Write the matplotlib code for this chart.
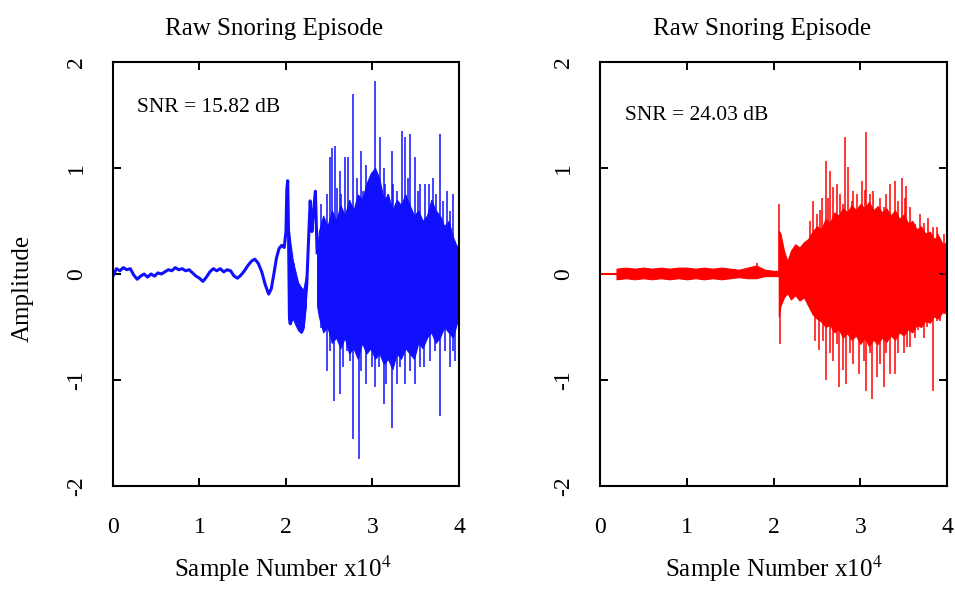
import matplotlib
matplotlib.use("Agg")
import matplotlib.pyplot as plt

plt.rcParams['font.family'] = ['Liberation Serif', 'DejaVu Serif']
plt.rcParams['mathtext.fontset'] = 'stix'

# ---- left panel (SNR 15.82 dB), x in units of 1e4 samples ----
left_quiet_x = [0.00, 0.04, 0.08, 0.12, 0.16, 0.20, 0.24, 0.28, 0.32, 0.36,
                0.40, 0.44, 0.48, 0.52, 0.56, 0.60, 0.64, 0.68, 0.72, 0.76,
                0.80, 0.84, 0.88, 0.92, 0.96, 1.00, 1.04, 1.08, 1.12, 1.16,
                1.20, 1.24, 1.28, 1.32, 1.36, 1.40, 1.44, 1.48, 1.52, 1.56,
                1.60, 1.64, 1.68, 1.72, 1.76, 1.80, 1.83, 1.86, 1.89, 1.92,
                1.95, 1.98, 2.00, 2.01, 2.02, 2.03, 2.04, 2.05, 2.06, 2.08,
                2.10, 2.12, 2.14, 2.16, 2.18, 2.20, 2.22, 2.24, 2.26, 2.28,
                2.30, 2.32, 2.34, 2.36]
left_quiet_y = [-0.02, 0.05, 0.03, 0.06, 0.04, 0.05, -0.01, -0.05, -0.02, 0.00,
                -0.03, 0.00, -0.02, 0.01, 0.00, 0.02, 0.04, 0.03, 0.06, 0.04,
                0.05, 0.03, 0.04, 0.01, -0.02, -0.04, -0.07, -0.03, 0.02, 0.05,
                0.03, 0.05, 0.02, 0.04, 0.03, -0.02, -0.04, -0.01, 0.03, 0.08,
                0.12, 0.14, 0.10, 0.02, -0.10, -0.19, -0.14, 0.00, 0.15, 0.24,
                0.27, 0.25, 0.40, 0.80, 0.88, 0.35, -0.40, -0.47, -0.05, 0.10,
                -0.25, -0.35, -0.45, -0.52, -0.55, -0.50, -0.30, -0.10, 0.30, 0.69,
                0.40, 0.60, 0.78, 0.20]

# dense band right after the onset (2.03 - 2.23)
left_onset_x = [2.03, 2.05, 2.08, 2.11, 2.14, 2.17, 2.20, 2.23]
left_onset_hi = [0.45, 0.30, 0.12, 0.02, -0.08, -0.12, -0.15, -0.02]
left_onset_lo = [-0.35, -0.47, -0.42, -0.48, -0.53, -0.55, -0.52, -0.30]

left_core_x = [2.36, 2.38, 2.43, 2.48, 2.53, 2.58, 2.63, 2.68, 2.73, 2.78,
               2.83, 2.88, 2.93, 2.98, 3.03, 3.08, 3.13, 3.18, 3.23, 3.28,
               3.33, 3.38, 3.43, 3.48, 3.53, 3.58, 3.63, 3.68, 3.73, 3.78,
               3.83, 3.88, 3.93, 3.98, 4.00]
left_core_hi = [0.20, 0.40, 0.55, 0.45, 0.60, 0.50, 0.65, 0.55, 0.70, 0.60,
                0.75, 0.70, 0.85, 0.95, 1.00, 0.90, 0.70, 0.75, 0.60, 0.70,
                0.65, 0.75, 0.65, 0.55, 0.60, 0.50, 0.55, 0.70, 0.60, 0.55,
                0.45, 0.50, 0.35, 0.25, 0.30]
left_core_lo = [-0.30, -0.40, -0.55, -0.50, -0.65, -0.60, -0.70, -0.60, -0.75, -0.70,
                -0.80, -0.65, -0.75, -0.70, -0.80, -0.75, -0.85, -0.80, -0.90, -0.75,
                -0.80, -0.70, -0.75, -0.80, -0.65, -0.70, -0.60, -0.55, -0.65, -0.60,
                -0.50, -0.55, -0.60, -0.45, -0.50]

left_up_x = [2.41, 2.47, 2.51, 2.53, 2.57, 2.59, 2.63, 2.64, 2.68, 2.72,
             2.78, 2.82, 2.87, 2.89, 2.93, 2.99, 3.03, 3.09, 3.13, 3.15,
             3.18, 3.22, 3.24, 3.28, 3.34, 3.38, 3.41, 3.43, 3.49, 3.53,
             3.55, 3.61, 3.65, 3.70, 3.74, 3.78, 3.82, 3.86, 3.90, 3.93]
left_up_y = [0.66, 0.75, 1.10, 1.19, 1.21, 0.81, 0.97, 0.75, 1.10, 1.10,
             1.70, 0.91, 1.16, 0.78, 1.03, 0.91, 1.82, 1.29, 1.00, 0.85,
             0.75, 1.16, 0.85, 0.78, 1.35, 1.29, 0.91, 1.32, 1.10, 0.78,
             0.85, 0.85, 0.85, 0.91, 0.75, 1.32, 0.69, 0.78, 0.59, 0.75]
left_dn_x = [2.41, 2.47, 2.51, 2.55, 2.62, 2.66, 2.70, 2.74, 2.78, 2.84,
             2.87, 2.93, 2.99, 3.03, 3.07, 3.13, 3.16, 3.22, 3.28, 3.32,
             3.38, 3.43, 3.49, 3.55, 3.59, 3.66, 3.72, 3.78, 3.84, 3.90,
             3.93, 3.95]
left_dn_y = [-0.51, -0.92, -0.73, -1.20, -1.13, -0.88, -0.73, -0.82, -1.56, -1.75,
             -0.92, -1.04, -0.88, -1.07, -0.88, -1.23, -1.04, -1.45, -1.04, -0.88,
             -1.04, -0.92, -1.04, -0.88, -0.88, -0.82, -0.73, -1.34, -0.73, -0.88,
             -0.73, -0.82]

# ---- right panel (SNR 24.03 dB) ----
right_flat_x = [0.00, 0.19]
right_flat_y = [0.00, 0.00]

right_quiet_x = [0.19, 0.30, 0.40, 0.50, 0.60, 0.70, 0.80, 0.90, 1.00, 1.10,
                 1.20, 1.30, 1.40, 1.50, 1.60, 1.70, 1.80, 1.90, 2.00, 2.06]
right_quiet_hi = [0.05, 0.06, 0.05, 0.06, 0.05, 0.06, 0.05, 0.06, 0.06, 0.05,
                  0.06, 0.05, 0.06, 0.05, 0.04, 0.06, 0.08, 0.04, 0.03, 0.03]
right_quiet_lo = [-0.05, -0.04, -0.05, -0.04, -0.05, -0.04, -0.05, -0.04, -0.05, -0.04,
                  -0.05, -0.04, -0.05, -0.04, -0.03, -0.04, -0.04, -0.02, -0.02, -0.02]

right_core_x = [2.06, 2.08, 2.12, 2.16, 2.20, 2.25, 2.30, 2.35, 2.40, 2.45,
                2.50, 2.55, 2.60, 2.65, 2.70, 2.75, 2.80, 2.85, 2.90, 2.95,
                3.00, 3.05, 3.10, 3.15, 3.20, 3.25, 3.30, 3.35, 3.40, 3.45,
                3.50, 3.55, 3.60, 3.65, 3.70, 3.75, 3.80, 3.85, 3.90, 3.95, 4.00]
right_core_hi = [0.41, 0.38, 0.22, 0.12, 0.22, 0.28, 0.25, 0.30, 0.33, 0.40,
                 0.45, 0.42, 0.52, 0.48, 0.58, 0.55, 0.62, 0.58, 0.65, 0.60,
                 0.66, 0.62, 0.68, 0.60, 0.64, 0.58, 0.62, 0.55, 0.60, 0.52,
                 0.56, 0.48, 0.50, 0.42, 0.45, 0.38, 0.40, 0.33, 0.36, 0.28, 0.30]
right_core_lo = [-0.40, -0.30, -0.22, -0.18, -0.24, -0.20, -0.25, -0.22, -0.30, -0.38,
                 -0.42, -0.45, -0.50, -0.48, -0.55, -0.52, -0.60, -0.56, -0.62, -0.58,
                 -0.66, -0.60, -0.68, -0.62, -0.66, -0.60, -0.64, -0.58, -0.62, -0.55,
                 -0.58, -0.52, -0.55, -0.48, -0.50, -0.44, -0.46, -0.40, -0.42, -0.35, -0.38]

right_up_x = [1.81, 2.06, 2.42, 2.46, 2.50, 2.54, 2.56, 2.60, 2.63, 2.65,
              2.69, 2.73, 2.77, 2.80, 2.82, 2.86, 2.90, 2.92, 2.96, 3.02,
              3.05, 3.07, 3.11, 3.15, 3.23, 3.27, 3.30, 3.34, 3.40, 3.44,
              3.48, 3.52, 3.53, 3.57, 3.63, 3.69, 3.73, 3.78, 3.84, 3.88,
              3.90, 3.96]
right_up_y = [0.10, 0.66, 0.50, 0.69, 0.57, 0.60, 0.72, 1.07, 0.72, 0.97,
              0.82, 0.85, 0.75, 0.66, 1.29, 1.01, 0.69, 0.78, 0.75, 0.88,
              0.79, 1.34, 0.75, 0.78, 0.72, 0.63, 0.75, 0.85, 0.88, 0.69,
              0.91, 0.72, 0.83, 0.63, 0.47, 0.57, 0.48, 0.53, 0.44, 0.44,
              0.38, 0.38]
right_dn_x = [2.07, 2.48, 2.52, 2.57, 2.61, 2.65, 2.69, 2.73, 2.75, 2.80,
              2.84, 2.88, 2.92, 2.98, 3.04, 3.07, 3.11, 3.14, 3.19, 3.23,
              3.27, 3.30, 3.34, 3.40, 3.44, 3.50, 3.54, 3.57, 3.63, 3.67,
              3.73, 3.77, 3.84, 3.88, 3.92, 3.96]
right_dn_y = [-0.66, -0.63, -0.72, -0.63, -1.00, -0.75, -0.82, -0.66, -1.07, -0.91,
              -1.04, -0.75, -0.85, -0.94, -0.82, -1.10, -0.75, -1.18, -0.97, -0.85,
              -1.07, -0.75, -0.94, -0.94, -0.75, -0.75, -0.69, -0.69, -0.60, -0.53,
              -0.60, -0.50, -1.10, -0.44, -0.44, -0.38]

x_ticks = [0, 1, 2, 3, 4]
y_ticks = [-2, -1, 0, 1, 2]
y_tick_labels = ['-2', '-1', '0', '1', '2']

fig = plt.figure(figsize=(9.55, 5.92), dpi=100)
ax1 = fig.add_axes([0.1183, 0.1791, 0.3623, 0.7162])
ax2 = fig.add_axes([0.6283, 0.1791, 0.3634, 0.7162])

blue = '#1010ff'
red = '#ff0000'

# left signal
ax1.plot(left_quiet_x, left_quiet_y, color=blue, lw=2.2)
ax1.fill_between(left_onset_x, left_onset_lo, left_onset_hi, color=blue, lw=0.8)
ax1.fill_between(left_core_x, left_core_lo, left_core_hi, color=blue, lw=0.8)
ax1.vlines(left_up_x, 0, left_up_y, color=blue, lw=1.1)
ax1.vlines(left_dn_x, 0, left_dn_y, color=blue, lw=1.1)

# right signal
ax2.plot(right_flat_x, right_flat_y, color=red, lw=1.5)
ax2.fill_between(right_quiet_x, right_quiet_lo, right_quiet_hi, color=red, lw=0.8)
ax2.fill_between(right_core_x, right_core_lo, right_core_hi, color=red, lw=0.8)
ax2.vlines(right_up_x, 0, right_up_y, color=red, lw=1.1)
ax2.vlines(right_dn_x, 0, right_dn_y, color=red, lw=1.1)

for ax in (ax1, ax2):
    ax.set_xlim(0, 4)
    ax.set_ylim(-2, 2)
    ax.set_xticks(x_ticks)
    ax.set_xticklabels([str(t) for t in x_ticks])
    ax.set_yticks(y_ticks)
    ax.set_yticklabels(y_tick_labels, rotation=90, va='center', ha='center')
    ax.tick_params(axis='x', direction='in', length=6, width=1.4,
                   labelsize=17, pad=22, top=True)
    ax.tick_params(axis='y', direction='in', length=6, width=1.4,
                   labelsize=17, pad=26)
    for s in ax.spines.values():
        s.set_linewidth(1.5)
    ax.text(0.466, 1.064, 'Raw Snoring Episode', transform=ax.transAxes,
            ha='center', va='baseline', fontsize=18)

ax2.tick_params(axis='y', right=True)

ax1.text(0.49, -0.215, r'Sample Number x10$^{4}$', transform=ax1.transAxes,
         ha='center', va='baseline', fontsize=18)
ax2.text(0.50, -0.215, r'Sample Number x10$^{4}$', transform=ax2.transAxes,
         ha='center', va='baseline', fontsize=18)
ax1.text(-0.26, 0.467, 'Amplitude', transform=ax1.transAxes, rotation=90,
         ha='center', va='center', fontsize=18)

ax1.text(0.069, 0.882, 'SNR = 15.82 dB', transform=ax1.transAxes,
         ha='left', va='baseline', fontsize=15.5)
ax2.text(0.072, 0.862, 'SNR = 24.03 dB', transform=ax2.transAxes,
         ha='left', va='baseline', fontsize=15.5)

fig.savefig('out.png', dpi=100)
